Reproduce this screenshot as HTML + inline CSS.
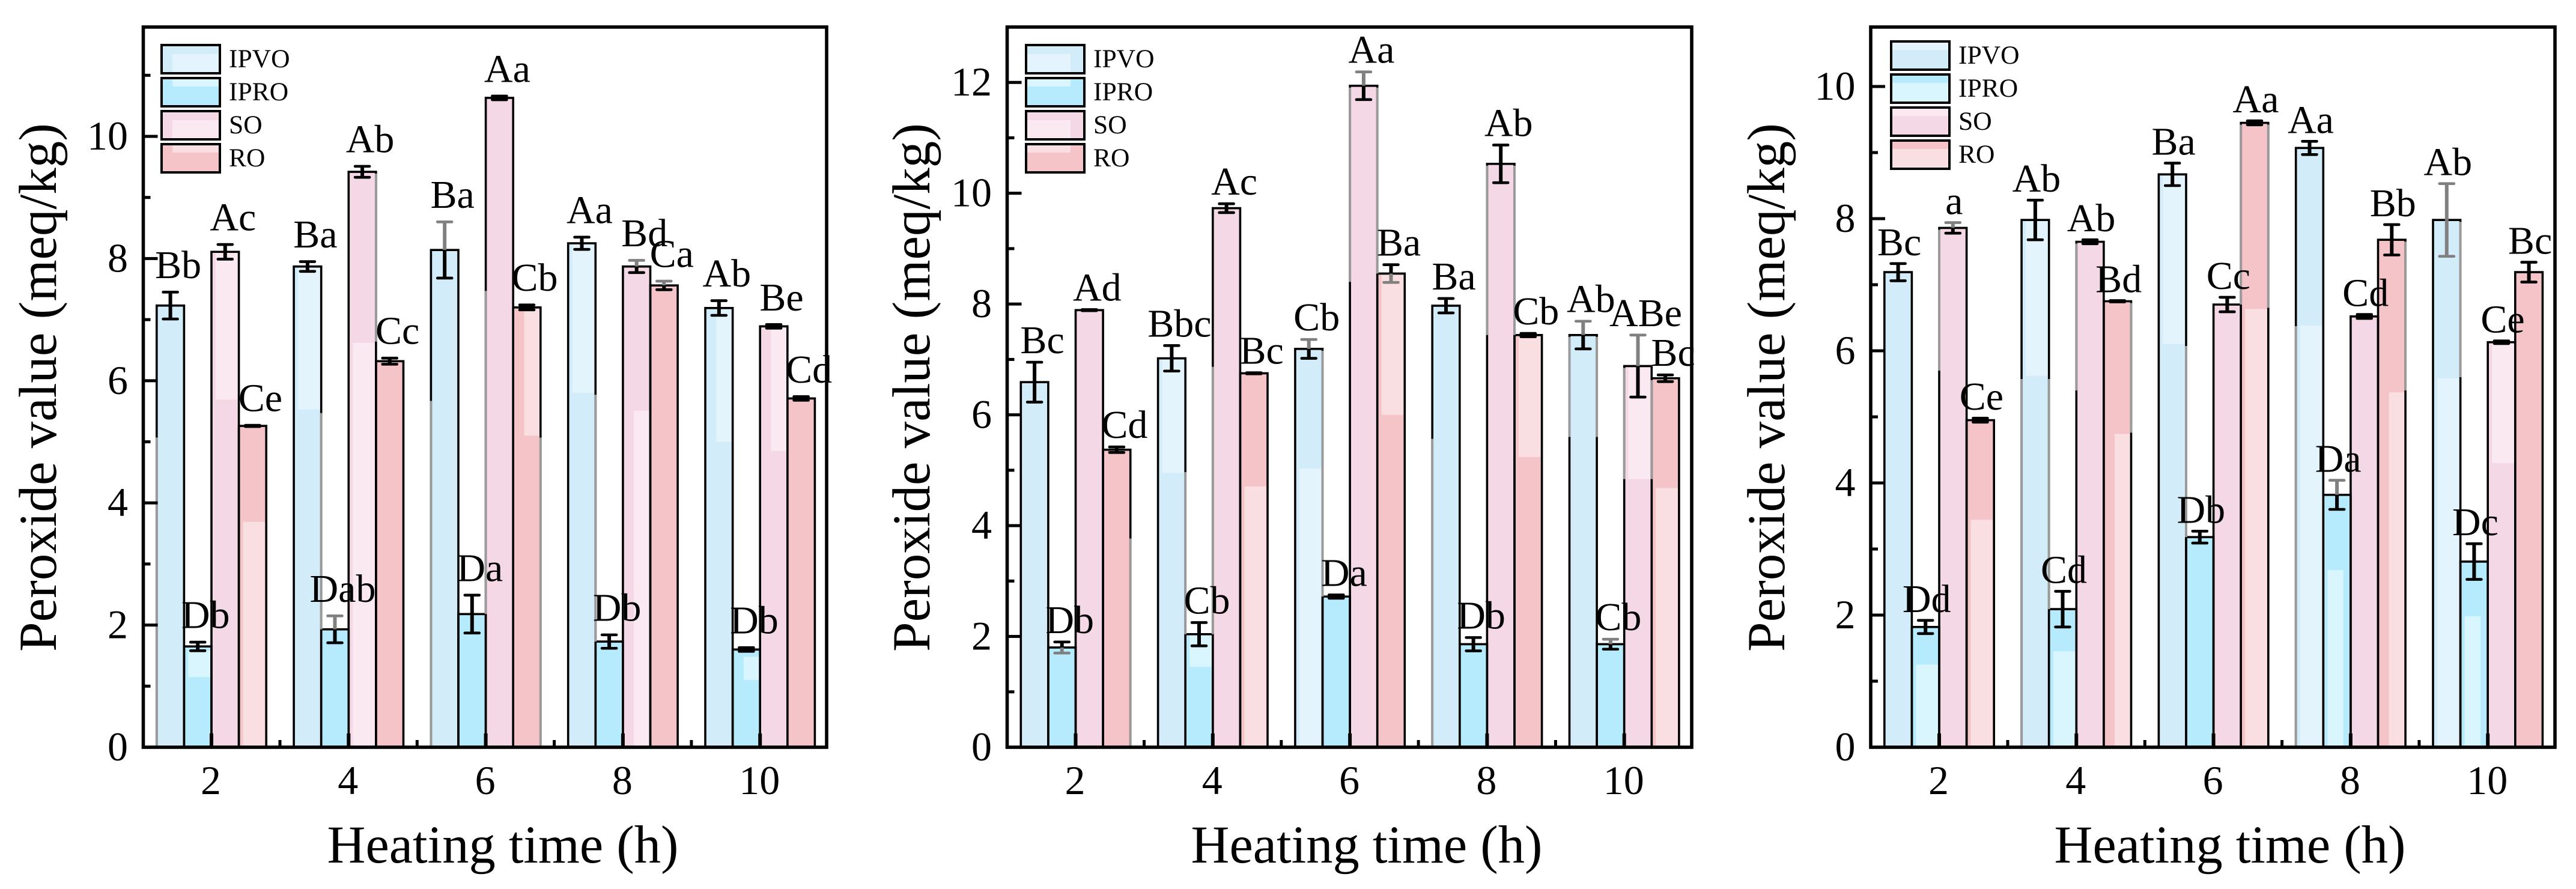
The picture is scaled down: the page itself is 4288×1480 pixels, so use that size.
<!DOCTYPE html>
<html lang="en">
<head>
<meta charset="utf-8">
<title>Peroxide value versus heating time</title>
<style>
html,body{margin:0;padding:0;background:#fff;}
#figure{display:block;width:4288px;height:1480px;background:#fff;}
text{font-family:"Liberation Serif",serif;fill:#000;}
</style>
</head>
<body>
<svg id="figure" xmlns="http://www.w3.org/2000/svg" width="4288" height="1480" viewBox="0 0 4288 1480"></svg>
<script>
const times = ['2', '4', '6', '8', '10'];
const seriesNames = ['IPVO', 'IPRO', 'SO', 'RO'];

const panelA_IPVO = [7.23, 7.87, 8.14, 8.25, 7.19];
const panelA_IPRO = [1.65, 1.93, 2.18, 1.73, 1.60];
const panelA_SO = [8.11, 9.42, 10.63, 7.87, 6.89];
const panelA_RO = [5.26, 6.32, 7.20, 7.56, 5.71];
const panelA_IPVO_err = [0.22, 0.08, 0.46, 0.10, 0.12];
const panelA_IPRO_err = [0.07, 0.22, 0.31, 0.11, 0.03];
const panelA_SO_err = [0.12, 0.09, 0.03, 0.10, 0.03];
const panelA_RO_err = [0.01, 0.05, 0.04, 0.07, 0.03];
const panelA_IPVO_labels = ['Bb', 'Ba', 'Ba', 'Aa', 'Ab'];
const panelA_IPRO_labels = ['Db', 'Dab', 'Da', 'Db', 'Db'];
const panelA_SO_labels = ['Ac', 'Ab', 'Aa', 'Bd', 'Be'];
const panelA_RO_labels = ['Ce', 'Cc', 'Cb', 'Ca', 'Cd'];
const panelA_yTicks = [0, 2, 4, 6, 8, 10];
const panelA_fade = [
  [1,0,1.15,1.6,0],[2,0,5.69,99,0],[3,0,0,3.71,0],[0,1,5.53,99,0],[2,1,0,6.64,0],
  [3,2,5.1,99,1],[0,3,5.8,99,0],[2,3,0,5.53,1],[0,4,5.0,99,1],[1,4,1.1,1.5,1],[2,4,4.85,99,1]
];
const panelA_paleEdges = [
  [0,0,0,0,5.1],[0,1,1,1.93,5.5],[2,1,1,6.64,9.42],[0,2,0,0,5.7],[3,2,1,0,5.1],
  [2,2,0,2.18,7.5],[0,3,1,1.73,5.8]
];
const panelA_paleErrors = [[0,2,0],[1,1,0],[2,3,0],[3,3,0]];

const panelB_IPVO = [6.59, 7.02, 7.19, 7.97, 7.44];
const panelB_IPRO = [1.80, 2.04, 2.72, 1.86, 1.86];
const panelB_SO = [7.89, 9.73, 11.94, 10.53, 6.88];
const panelB_RO = [5.37, 6.75, 8.55, 7.44, 6.66];
const panelB_IPVO_err = [0.36, 0.23, 0.17, 0.13, 0.25];
const panelB_IPRO_err = [0.10, 0.21, 0.03, 0.12, 0.09];
const panelB_SO_err = [0.01, 0.08, 0.25, 0.34, 0.56];
const panelB_RO_err = [0.05, 0.01, 0.16, 0.03, 0.06];
const panelB_IPVO_labels = ['Bc', 'Bbc', 'Cb', 'Ba', 'Ab'];
const panelB_IPRO_labels = ['Db', 'Cb', 'Da', 'Db', 'Cb'];
const panelB_SO_labels = ['Ad', 'Ac', 'Aa', 'Ab', 'ABe'];
const panelB_RO_labels = ['Cd', 'Bc', 'Ba', 'Cb', 'Bc'];
const panelB_yTicks = [0, 2, 4, 6, 8, 10, 12];
const panelB_fade = [
  [0,1,4.95,99,0],[1,1,1.45,99,0],[3,1,0,4.73,0],[0,2,0,5.05,0],[3,2,6.0,99,0],
  [3,3,5.24,99,0],[2,4,4.84,99,0],[3,4,0,4.7,0]
];
const panelB_paleEdges = [
  [3,0,1,0,3.8],[0,1,1,2.04,5],[2,1,0,2.04,6.9],[0,2,1,2.72,7.19],[2,2,0,8.4,11.94],
  [2,2,1,8.55,11.94],[0,3,0,0,5.6],[2,3,0,7.44,10.53],[2,3,1,7.44,10.53],[0,4,0,5.6,7.44],
  [0,4,1,5.6,7.44],[2,4,0,4.84,6.88],[2,4,1,4.84,6.66]
];
const panelB_paleErrors = [[0,2,0],[2,2,0],[0,4,0],[2,4,0],[1,4,0],[1,0,1],[3,2,1]];

const panelC_IPVO = [7.19, 7.98, 8.67, 9.07, 7.98];
const panelC_IPRO = [1.82, 2.09, 3.18, 3.82, 2.81];
const panelC_SO = [7.86, 7.65, 6.70, 6.52, 6.13];
const panelC_RO = [4.95, 6.75, 9.45, 7.68, 7.19];
const panelC_IPVO_err = [0.13, 0.30, 0.17, 0.10, 0.55];
const panelC_IPRO_err = [0.10, 0.27, 0.09, 0.22, 0.27];
const panelC_SO_err = [0.08, 0.03, 0.11, 0.03, 0.02];
const panelC_RO_err = [0.03, 0.01, 0.03, 0.23, 0.15];
const panelC_IPVO_labels = ['Bc', 'Ab', 'Ba', 'Aa', 'Ab'];
const panelC_IPRO_labels = ['Dd', 'Cd', 'Db', 'Da', 'Dc'];
const panelC_SO_labels = ['a', 'Ab', 'Cc', 'Cd', 'Ce'];
const panelC_RO_labels = ['Ce', 'Bd', 'Aa', 'Bb', 'Bc'];
const panelC_yTicks = [0, 2, 4, 6, 8, 10];
const panelC_fade = [
  [1,0,0,1.27,0],[3,0,0,3.46,0],[0,1,5.62,99,0],[1,1,0,1.47,0],[3,1,0,4.76,1],
  [0,2,6.1,99,0],[3,2,0,6.65,0],[0,3,0,6.4,0],[1,3,0,2.7,2],[3,3,0,5.39,1],
  [0,4,0,5.6,0],[1,4,0,2.0,2],[2,4,4.3,99,0]
];
const panelC_paleEdges = [
  [2,0,0,5.7,7.86],[0,1,0,0,5.6],[0,1,1,2.09,5.6],[2,1,0,5.4,7.65],[3,1,1,4.76,6.75],
  [0,2,1,3.18,6.1],[3,2,0,6.7,9.45],[3,2,1,6.65,9.45],[0,3,0,0,6.4],[3,3,1,5.4,7.68],
  [0,4,1,5.6,7.98]
];
const panelC_paleErrors = [[2,0,0],[0,4,0],[0,4,1],[1,3,0]];

const svg = document.getElementById('figure');
const NS = 'http://www.w3.org/2000/svg';
const solidColors = ['#d3ecfa', '#b5ebfd', '#f5d8e5', '#f4c4c8'];
const fadedColors = ['#e4f4fc', '#d9f5fd', '#fbe9f1', '#f9dfe1'];
const AXIS_BOTTOM = 1244;
const AXIS_TOP = 45;

function mk(tag, parent, props) {
  const el = document.createElementNS(NS, tag);
  for (const k in props) el.setAttribute(k, props[k]);
  parent.appendChild(el);
  return el;
}

function drawPanel(p) {
  const root = mk('g', svg, {});
  
  

  const yScale = v => AXIS_BOTTOM - (v / p.yMax) * (AXIS_BOTTOM - AXIS_TOP);
  const xCenter = i => p.x0 + i * 228.3;
  const barW = 45.6;
  const barLeft = (i, s) => xCenter(i) + (s - 2) * barW;

  // bars
  const barsG = mk('g', root, {});
  
  
  times.forEach((t, i) => {
    p.values.forEach((series, s) => {
      const x = barLeft(i, s);
      const top = yScale(series[i]);
      const bar = mk('rect', barsG, {x: x, y: top, width: barW, height: AXIS_BOTTOM - top, fill: solidColors[s], stroke: 'none'});
      
      
      p.fade.filter(f => f[0] === s && f[1] === i).forEach(f => {
        const hi = Math.min(f[3], series[i]);
        if (hi <= f[2]) return;
        const partX = f[4] === 1 ? x + barW * 0.4 : x + 7;
        const partW = f[4] === 0 ? barW - 9 : barW * 0.58;
        const patch = mk('rect', barsG, {x: partX, y: yScale(hi) + 2, width: partW, height: Math.max(0, yScale(f[2]) - yScale(hi) - 2), fill: fadedColors[s]});
        
        
      });
    });
  });
  times.forEach((t, i) => {
    p.values.forEach((series, s) => {
      const x = barLeft(i, s);
      const top = yScale(series[i]);
      const outline = mk('path', barsG, {d: 'M' + x + ' ' + AXIS_BOTTOM + 'V' + top + 'H' + (x + barW) + 'V' + AXIS_BOTTOM, fill: 'none', stroke: '#000', 'stroke-width': 3.6});
      
      
    });
  });
  p.paleEdges.forEach(e => {
    const value = p.values[e[0]][e[1]];
    const hi = Math.min(e[4], value);
    if (hi <= e[3]) return;
    const x = barLeft(e[1], e[0]) + e[2] * barW;
    const edge = mk('line', barsG, {x1: x, x2: x, y1: yScale(hi) + 3, y2: yScale(e[3]), stroke: '#9a9a9a', 'stroke-width': 4});
    
    
  });

  // error bars and significance letters
  times.forEach((t, i) => {
    p.values.forEach((series, s) => {
      const cx = barLeft(i, s) + barW / 2;
      const hiY = yScale(series[i] + p.errors[s][i]);
      const midY = yScale(series[i]);
      const loY = yScale(series[i] - p.errors[s][i]);
      const upperPale = p.paleErrors.some(e => e[0] === s && e[1] === i && e[2] === 0);
      const lowerPale = p.paleErrors.some(e => e[0] === s && e[1] === i && e[2] === 1);
      const upper = mk('path', root, {d: 'M' + cx + ' ' + hiY + 'V' + midY, fill: 'none', stroke: upperPale ? '#808080' : '#000', 'stroke-width': 6});
      
      
      const lower = mk('path', root, {d: 'M' + cx + ' ' + midY + 'V' + loY, fill: 'none', stroke: lowerPale ? '#808080' : '#000', 'stroke-width': 6});
      
      
      const capHi = mk('path', root, {d: 'M' + (cx - 12) + ' ' + hiY + 'H' + (cx + 12), fill: 'none', stroke: upperPale ? '#808080' : '#000', 'stroke-width': 4.6, 'stroke-linecap': 'round'});
      
      
      const capLo = mk('path', root, {d: 'M' + (cx - 12) + ' ' + loY + 'H' + (cx + 12), fill: 'none', stroke: lowerPale ? '#808080' : '#000', 'stroke-width': 4.6, 'stroke-linecap': 'round'});
      
      
      const lab = mk('text', root, {x: cx + p.labelDx, y: hiY - p.labelGap, 'text-anchor': 'middle', 'font-size': 66});
      lab.textContent = p.labels[s][i];
      
      
    });
  });

  // frame
  const frame = mk('rect', root, {x: p.left, y: AXIS_TOP, width: p.right - p.left, height: AXIS_BOTTOM - AXIS_TOP, fill: 'none', stroke: '#000', 'stroke-width': 5.6});
  
  

  // y ticks
  p.yTicks.forEach(v => {
    const y = yScale(v);
    if (v > 0) {
      const tick = mk('rect', root, {x: p.left, y: y - 2.5, width: 24, height: 5, fill: '#000'});
      
      
    }
    const label = mk('text', root, {x: p.left - 25.5, y: y + 22, 'text-anchor': 'end', 'font-size': 68});
    label.textContent = String(v);
    
    
    const minorV = v + (p.yTicks[1] - p.yTicks[0]) / 2;
    if (yScale(minorV) > AXIS_TOP + 10) {
      const minor = mk('rect', root, {x: p.left, y: yScale(minorV) - 2.5, width: 12, height: 5, fill: '#000'});
      
      
    }
  });

  // x ticks
  times.forEach((t, i) => {
    const x = xCenter(i);
    const tick = mk('rect', root, {x: x - 3, y: AXIS_BOTTOM - 23, width: 6, height: 23, fill: '#000'});
    
    
    const label = mk('text', root, {x: x - 1, y: 1322, 'text-anchor': 'middle', 'font-size': 68});
    label.textContent = t;
    
    
    if (i < times.length - 1) {
      const minor = mk('rect', root, {x: x + 114 - 2.5, y: AXIS_BOTTOM - 12, width: 5, height: 12, fill: '#000'});
      
      
    }
  });

  // axis titles
  const xTitle = mk('text', root, {x: p.xTitleX, y: 1436, 'text-anchor': 'middle', 'font-size': 88.5});
  xTitle.textContent = 'Heating time (h)';
  
  
  const yTitle = mk('text', root, {x: 0, y: 0, 'text-anchor': 'middle', 'font-size': 89, transform: 'translate(' + p.yTitleX + ' 645) rotate(-90)'});
  yTitle.textContent = 'Peroxide value (meq/kg)';
  
  

  // legend
  const legend = mk('g', root, {});
  
  
  seriesNames.forEach((name, s) => {
    const top = p.legendY + s * 55;
    const entry = mk('g', legend, {});
    
    
    mk('rect', entry, {x: p.legendX, y: top, width: 97, height: 47, fill: solidColors[s]});
    const patch = p.legendPatch(s);
    mk('rect', entry, {x: p.legendX + patch[0], y: top + patch[1], width: patch[2], height: patch[3], fill: fadedColors[s]});
    mk('rect', entry, {x: p.legendX, y: top, width: 97, height: 47, fill: 'none', stroke: '#000', 'stroke-width': 4});
    const txt = mk('text', entry, {x: p.legendX + 112, y: top + 37, 'font-size': 43.5});
    txt.textContent = name;
  });
}

drawPanel({
  name: 'panel-a', x0: 352, left: 238.5, right: 1376, yMax: 11.79, labelDx: 13, labelGap: 23.5,
  values: [panelA_IPVO, panelA_IPRO, panelA_SO, panelA_RO],
  errors: [panelA_IPVO_err, panelA_IPRO_err, panelA_SO_err, panelA_RO_err],
  labels: [panelA_IPVO_labels, panelA_IPRO_labels, panelA_SO_labels, panelA_RO_labels],
  yTicks: panelA_yTicks, fade: panelA_fade, paleEdges: panelA_paleEdges, paleErrors: panelA_paleErrors,
  xTitleX: 837, yTitleX: 93, legendX: 269, legendY: 75,
  legendPatch: s => (s % 2 === 0 ? [18, 15, 77, 30] : [18, 2, 77, 12])
});
drawPanel({
  name: 'panel-b', x0: 1790.5, left: 1676.5, right: 2816, yMax: 13.0, labelDx: 13, labelGap: 15,
  values: [panelB_IPVO, panelB_IPRO, panelB_SO, panelB_RO],
  errors: [panelB_IPVO_err, panelB_IPRO_err, panelB_SO_err, panelB_RO_err],
  labels: [panelB_IPVO_labels, panelB_IPRO_labels, panelB_SO_labels, panelB_RO_labels],
  yTicks: panelB_yTicks, fade: panelB_fade, paleEdges: panelB_paleEdges, paleErrors: panelB_paleErrors,
  xTitleX: 2275, yTitleX: 1547, legendX: 1708, legendY: 75,
  legendPatch: s => (s % 2 === 0 ? [2, 15, 72, 30] : [2, 2, 72, 12])
});
drawPanel({
  name: 'panel-c', x0: 3228, left: 3114, right: 4253, yMax: 10.9, labelDx: 2, labelGap: 14,
  values: [panelC_IPVO, panelC_IPRO, panelC_SO, panelC_RO],
  errors: [panelC_IPVO_err, panelC_IPRO_err, panelC_SO_err, panelC_RO_err],
  labels: [panelC_IPVO_labels, panelC_IPRO_labels, panelC_SO_labels, panelC_RO_labels],
  yTicks: panelC_yTicks, fade: panelC_fade, paleEdges: panelC_paleEdges, paleErrors: panelC_paleErrors,
  xTitleX: 3712, yTitleX: 2970, legendX: 3148, legendY: 69,
  legendPatch: s => (s % 2 === 0 ? [2, 2, 93, 12] : [2, 14, 93, 31])
});
</script>
</body>
</html>
